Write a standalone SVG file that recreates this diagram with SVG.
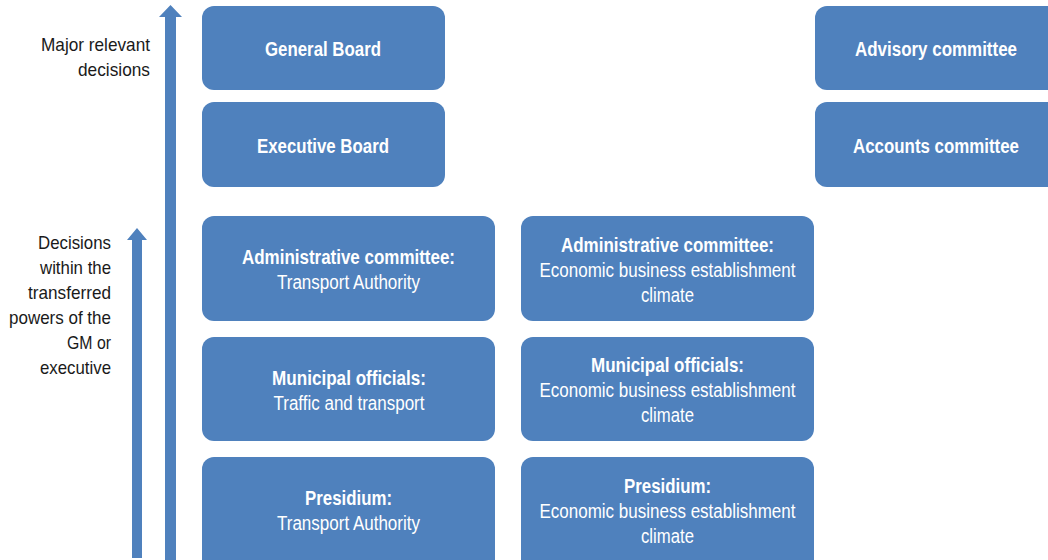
<svg xmlns="http://www.w3.org/2000/svg" width="1048" height="560" viewBox="0 0 1048 560">
<style>
.box{fill:#4F81BD;}
.b{font-family:"Liberation Sans Narrow","Liberation Sans",Arial,sans-serif;font-size:19.5px;font-weight:bold;fill:#fff;text-anchor:middle;}
.r{font-family:"Liberation Sans Narrow","Liberation Sans",Arial,sans-serif;font-size:19.5px;fill:#fff;text-anchor:middle;}
.l{font-family:"Liberation Sans Narrow","Liberation Sans",Arial,sans-serif;font-size:19px;fill:#1a1a1a;text-anchor:end;}
.arr{fill:#4F81BD;}
</style>
<rect width="1048" height="560" fill="#fff"/>
<g id="connectors">
<polygon class="arr" points="170.5,5 182,17 176,17 176,560 165,560 165,17 159,17"/>
<polygon class="arr" points="137,228 147,240 142,240 142,558 132,558 132,240 127,240"/>
</g>
<g id="label-major">
<text class="l" x="150" y="51" textLength="109" lengthAdjust="spacingAndGlyphs">Major relevant</text>
<text class="l" x="150" y="76" textLength="72" lengthAdjust="spacingAndGlyphs">decisions</text>
</g>
<g id="label-decisions">
<text class="l" x="111" y="249" textLength="73" lengthAdjust="spacingAndGlyphs">Decisions</text>
<text class="l" x="111" y="274" textLength="71" lengthAdjust="spacingAndGlyphs">within the</text>
<text class="l" x="111" y="299" textLength="83" lengthAdjust="spacingAndGlyphs">transferred</text>
<text class="l" x="111" y="324" textLength="102" lengthAdjust="spacingAndGlyphs">powers of the</text>
<text class="l" x="111" y="349" textLength="44" lengthAdjust="spacingAndGlyphs">GM or</text>
<text class="l" x="111" y="374" textLength="71" lengthAdjust="spacingAndGlyphs">executive</text>
</g>
<g id="general-board">
<rect class="box" x="202" y="6" width="243" height="84" rx="12"/>
<text class="b" x="323" y="56" textLength="116" lengthAdjust="spacingAndGlyphs">General Board</text>
</g>
<g id="executive-board">
<rect class="box" x="202" y="102" width="243" height="85" rx="12"/>
<text class="b" x="323" y="153" textLength="132" lengthAdjust="spacingAndGlyphs">Executive Board</text>
</g>
<g id="advisory-committee">
<rect class="box" x="815" y="6" width="250" height="84" rx="12"/>
<text class="b" x="936" y="56" textLength="162" lengthAdjust="spacingAndGlyphs">Advisory committee</text>
</g>
<g id="accounts-committee">
<rect class="box" x="815" y="102" width="250" height="85" rx="12"/>
<text class="b" x="936" y="153" textLength="166" lengthAdjust="spacingAndGlyphs">Accounts committee</text>
</g>
<g id="admin-transport">
<rect class="box" x="202" y="216" width="293" height="105" rx="12"/>
<text class="b" x="348.5" y="264" textLength="213" lengthAdjust="spacingAndGlyphs">Administrative committee:</text>
<text class="r" x="348.5" y="289" textLength="143" lengthAdjust="spacingAndGlyphs">Transport Authority</text>
</g>
<g id="admin-economic">
<rect class="box" x="521" y="216" width="293" height="105" rx="12"/>
<text class="b" x="667.5" y="252" textLength="213" lengthAdjust="spacingAndGlyphs">Administrative committee:</text>
<text class="r" x="667.5" y="277" textLength="256" lengthAdjust="spacingAndGlyphs">Economic business establishment</text>
<text class="r" x="667.5" y="302" textLength="53" lengthAdjust="spacingAndGlyphs">climate</text>
</g>
<g id="municipal-traffic">
<rect class="box" x="202" y="337" width="293" height="104" rx="12"/>
<text class="b" x="349" y="385" textLength="154" lengthAdjust="spacingAndGlyphs">Municipal officials:</text>
<text class="r" x="349" y="410" textLength="151" lengthAdjust="spacingAndGlyphs">Traffic and transport</text>
</g>
<g id="municipal-economic">
<rect class="box" x="521" y="337" width="293" height="104" rx="12"/>
<text class="b" x="667.5" y="372" textLength="153" lengthAdjust="spacingAndGlyphs">Municipal officials:</text>
<text class="r" x="667.5" y="397" textLength="256" lengthAdjust="spacingAndGlyphs">Economic business establishment</text>
<text class="r" x="667.5" y="422" textLength="53" lengthAdjust="spacingAndGlyphs">climate</text>
</g>
<g id="presidium-transport">
<rect class="box" x="202" y="457" width="293" height="115" rx="12"/>
<text class="b" x="348.5" y="505" textLength="87" lengthAdjust="spacingAndGlyphs">Presidium:</text>
<text class="r" x="348.5" y="530" textLength="143" lengthAdjust="spacingAndGlyphs">Transport Authority</text>
</g>
<g id="presidium-economic">
<rect class="box" x="521" y="457" width="293" height="115" rx="12"/>
<text class="b" x="667.5" y="493" textLength="87" lengthAdjust="spacingAndGlyphs">Presidium:</text>
<text class="r" x="667.5" y="518" textLength="256" lengthAdjust="spacingAndGlyphs">Economic business establishment</text>
<text class="r" x="667.5" y="543" textLength="53" lengthAdjust="spacingAndGlyphs">climate</text>
</g>
</svg>
